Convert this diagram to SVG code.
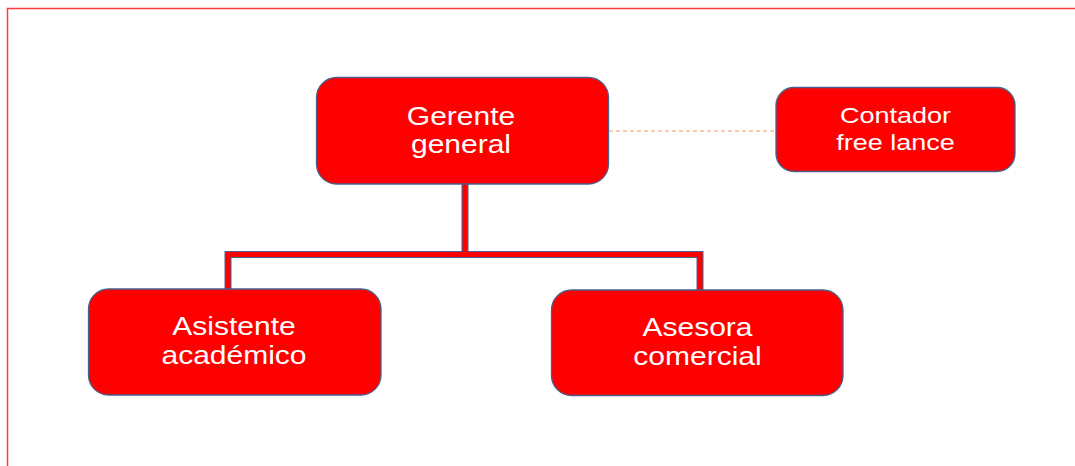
<svg xmlns="http://www.w3.org/2000/svg" width="1075" height="466" viewBox="0 0 1075 466">
<style>
.box{fill:#ff0000;stroke:#4a5f8c;stroke-width:1.3}
.t{font-family:"Liberation Sans",Arial,sans-serif;font-size:25px;fill:#ffffff;text-anchor:middle}
.s{font-size:22.5px}
.out{fill:none;stroke:#4a5f8c;stroke-width:7;stroke-linejoin:miter}
.in{fill:none;stroke:#ff0000;stroke-width:4.8;stroke-linejoin:miter}
</style>
<rect width="1075" height="466" fill="#ffffff"/>
<path d="M7.5,466 V8.5 H1075" fill="none" stroke="#ff3b3b" stroke-width="1.5"/>
<g id="connectors">
<line x1="609" y1="131" x2="776" y2="131" stroke="#f29a66" stroke-width="1.2" stroke-dasharray="4,3"/>
<path class="out" d="M465,184 V254.5 M228,289 V254.5 H700 V290"/>
<path class="in" d="M465,184 V254.5 M228,289 V254.5 H700 V290"/>
</g>
<g id="gerente">
<rect class="box" x="316.5" y="77.5" width="292" height="106.5" rx="20"/>
<g transform="translate(461,0) scale(1.2,1)"><text class="t" x="0" y="125">Gerente</text><text class="t" x="0" y="153">general</text></g>
</g>
<g id="contador">
<rect class="box" x="776" y="87.5" width="239" height="84" rx="18"/>
<g transform="translate(895.5,0) scale(1.2,1)"><text class="t s" x="0" y="123">Contador</text><text class="t s" x="0" y="150">free lance</text></g>
</g>
<g id="asistente">
<rect class="box" x="88.5" y="289" width="292.5" height="106" rx="20"/>
<g transform="translate(234,0) scale(1.2,1)"><text class="t" x="0" y="335">Asistente</text><text class="t" x="0" y="364">académico</text></g>
</g>
<g id="asesora">
<rect class="box" x="551.5" y="290" width="291.5" height="105.5" rx="20"/>
<g transform="translate(697.5,0) scale(1.2,1)"><text class="t" x="0" y="336">Asesora</text><text class="t" x="0" y="365.5">comercial</text></g>
</g>
</svg>
